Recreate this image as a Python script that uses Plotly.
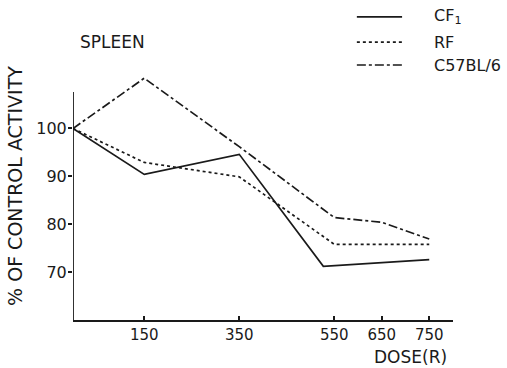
import plotly.graph_objects as go

# Data
cf_dose = [0, 150, 350, 527, 750]
cf_vals = [100, 90.4, 94.6, 71.2, 72.6]
rf_dose = [0, 150, 350, 550, 650, 750]
rf_vals = [100, 92.9, 89.9, 75.8, 75.8, 75.8]
c57_dose = [0, 150, 350, 550, 650, 750]
c57_vals = [100, 110.5, 96.2, 81.4, 80.4, 76.9]

x_ticks = [150, 350, 550, 650, 750]
y_ticks = [70, 80, 90, 100]

series = [
    ("CF<sub>1</sub>", cf_dose, cf_vals, "solid"),
    ("RF", rf_dose, rf_vals, "dot"),
    ("C57BL/6", c57_dose, c57_vals, "dashdot"),
]

INK = "#1a1a1a"
FONT = "DejaVu Sans"

fig = go.Figure()
for name, xs, ys, dash in series:
    fig.add_trace(go.Scatter(
        x=xs, y=ys, mode="lines", name=name, showlegend=False,
        line=dict(color=INK, width=1.7, dash=dash),
    ))

fig.update_layout(
    width=507, height=368,
    margin=dict(l=73, r=54, t=71, b=48),
    paper_bgcolor="white", plot_bgcolor="white",
    font=dict(family=FONT, color=INK, size=15),
    xaxis=dict(
        range=[0, 800], showgrid=False, zeroline=False,
        showline=True, linecolor=INK, linewidth=1.8,
        tickmode="array", tickvals=x_ticks, ticktext=[str(v) for v in x_ticks],
        ticks="inside", ticklen=4, tickcolor=INK, tickwidth=1.5,
        tickfont=dict(size=15, family=FONT, color=INK),
    ),
    yaxis=dict(
        range=[60, 112], showgrid=False, zeroline=False, showline=False,
        tickmode="array", tickvals=y_ticks, ticktext=[str(v) for v in y_ticks],
        ticks="outside", ticklen=4, tickcolor=INK, tickwidth=1.5,
        ticklabelstandoff=-2,
        tickfont=dict(size=16, family=FONT, color=INK),
    ),
)

# y-axis line (stops below the top of the plotting area)
fig.add_shape(type="line", xref="x", yref="y", x0=0, x1=0, y0=60, y1=107.6,
              line=dict(color=INK, width=1.8))

# Manual legend
leg_y = [1.217, 1.116, 1.024]
for (name, _, _, dash), ly in zip(series, leg_y):
    fig.add_shape(type="line", xref="paper", yref="paper",
                  x0=0.747, x1=0.866, y0=ly, y1=ly,
                  line=dict(color=INK, width=1.7, dash=dash))
    fig.add_annotation(xref="paper", yref="paper", x=0.945, y=ly,
                       text=name, showarrow=False, xanchor="left", yanchor="middle",
                       font=dict(size=16, family=FONT, color=INK))

fig.add_annotation(xref="paper", yref="paper", x=0.103, y=1.116, text="SPLEEN",
                   showarrow=False, xanchor="center", yanchor="middle",
                   font=dict(size=17, family=FONT, color=INK))
fig.add_annotation(xref="paper", yref="paper", x=0.887, y=-0.149, text="DOSE(R)",
                   showarrow=False, xanchor="center", yanchor="middle",
                   font=dict(size=17, family=FONT, color=INK))
fig.add_annotation(xref="paper", yref="paper", x=-0.153, y=0.538,
                   text="% OF CONTROL ACTIVITY", textangle=-90,
                   showarrow=False, xanchor="center", yanchor="middle",
                   font=dict(size=19, family=FONT, color=INK))

fig.write_html("out.html")
